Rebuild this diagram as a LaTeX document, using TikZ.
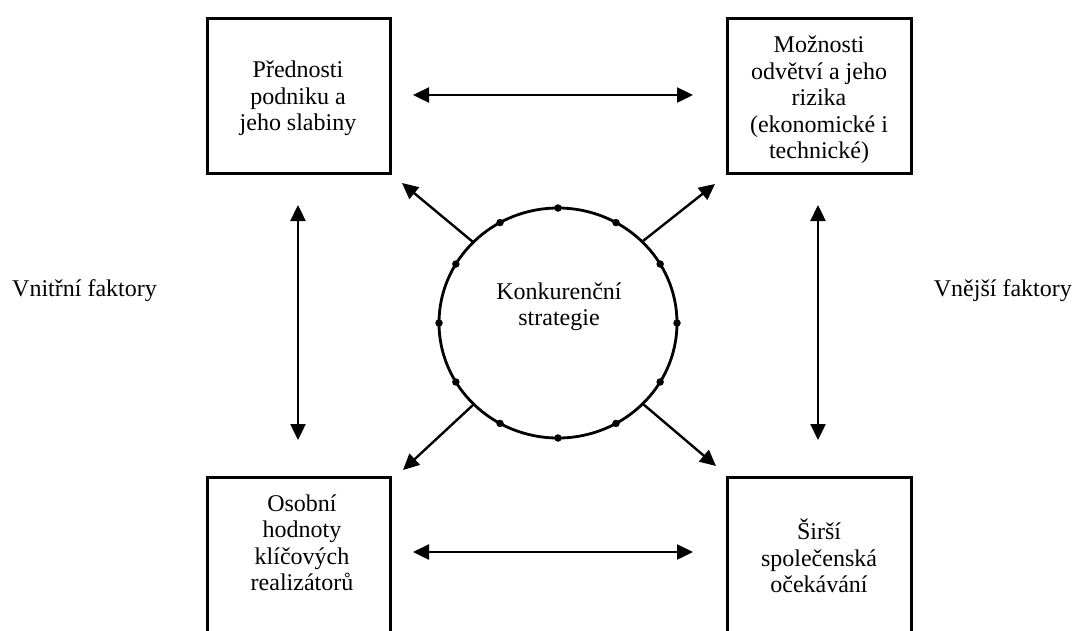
\documentclass[tikz,border=0pt]{standalone}
\usepackage{fontspec}
\setmainfont{Liberation Serif}
\usetikzlibrary{arrows.meta,shapes.geometric}
\begin{document}
\begin{tikzpicture}[x=1pt,y=-1pt,
  frame/.style={draw, line width=3pt, rectangle, inner sep=0pt, outer sep=0pt, anchor=north west},
  txt/.style={font=\fontsize{24}{26.5}\selectfont, align=center, anchor=base, inner sep=0pt},
  side/.style={font=\fontsize{24}{26.5}\selectfont, inner sep=0pt},
  link/.style={line width=2.4pt, {Triangle[length=16pt,width=15pt]}-{Triangle[length=16pt,width=15pt]}},
  ray/.style={line width=2.4pt, -{Triangle[length=16pt,width=15pt]}},
  dot/.style={circle, fill, inner sep=0pt, minimum size=7.5pt}
]
\useasboundingbox (0,0) rectangle (1078,630);

% four factor boxes
\node[frame, minimum width=183pt, minimum height=155pt] (b1) at (207,18) {};
\node[frame, minimum width=184pt, minimum height=155pt] (b2) at (727,18) {};
\node[frame, minimum width=183pt, minimum height=175pt] (b3) at (207,477) {};
\node[frame, minimum width=184pt, minimum height=175pt] (b4) at (727,477) {};

% box texts, placed by the baseline of their last line
\node[txt] (t1) at (298,130.5) {Přednosti\\podniku a\\jeho slabiny};
\node[txt] (t2) at (819,158.5) {Možnosti\\odvětví a jeho\\rizika\\(ekonomické i\\technické)};
\node[txt] (t3) at (302,590.5) {Osobní\\hodnoty\\klíčových\\realizátorů};
\node[txt] (t4) at (819,592.5) {Širší\\společenská\\očekávání};

% central strategy circle with its ring of dots
\node[draw, ellipse, line width=2.8pt, minimum width=238pt, minimum height=230pt, inner sep=0pt, outer sep=0pt] (core) at (558,323) {};
\foreach \a in {0,30,...,330}
  \node[dot] (d\a) at (core.\a) {};
\node[txt] (tc) at (559,325.5) {Konkurenční\\strategie};

% side labels
\node[side, anchor=base west] (inner) at (12,296.5) {Vnitřní faktory};
\node[side, anchor=base east] (outer) at (1072,296.5) {Vnější faktory};

% arrow end points
\coordinate (h1a) at (413,95);  \coordinate (h1b) at (693,95);
\coordinate (h2a) at (413,552); \coordinate (h2b) at (693,552);
\coordinate (v1a) at (298,205); \coordinate (v1b) at (298,440);
\coordinate (v2a) at (818,205); \coordinate (v2b) at (818,440);
\coordinate (r1s) at (473,242); \coordinate (r1e) at (402,183);
\coordinate (r2s) at (643,241); \coordinate (r2e) at (715,184);
\coordinate (r3s) at (473,405); \coordinate (r3e) at (403,470);
\coordinate (r4s) at (643,404); \coordinate (r4e) at (716,466);

% mutual links between the boxes
\draw[link] (h1a) -- (h1b);
\draw[link] (h2a) -- (h2b);
\draw[link] (v1a) -- (v1b);
\draw[link] (v2a) -- (v2b);

% rays from the strategy to each box
\draw[ray] (r1s) -- (r1e);
\draw[ray] (r2s) -- (r2e);
\draw[ray] (r3s) -- (r3e);
\draw[ray] (r4s) -- (r4e);
\end{tikzpicture}
\end{document}
